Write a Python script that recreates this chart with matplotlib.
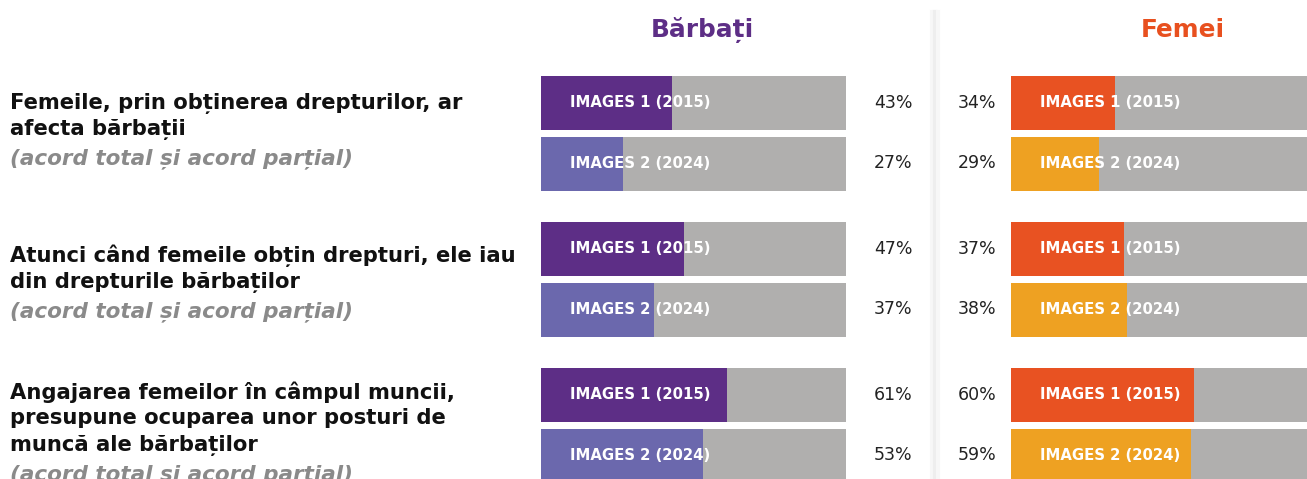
import matplotlib
matplotlib.use("Agg")
import matplotlib.pyplot as plt
from matplotlib.lines import Line2D

# ---- data ----
questions = [
    ["Femeile, prin obținerea drepturilor, ar", "afecta bărbații"],
    ["Atunci când femeile obțin drepturi, ele iau", "din drepturile bărbaților"],
    ["Angajarea femeilor în câmpul muncii,", "presupune ocuparea unor posturi de", "muncă ale bărbaților"],
]
note = "(acord total și acord parțial)"
waves = ["IMAGES 1 (2015)", "IMAGES 2 (2024)"]
men_2015 = [43, 47, 61]
men_2024 = [27, 37, 53]
women_2015 = [34, 37, 60]
women_2024 = [29, 38, 59]
panel_titles = ["Bărbați", "Femei"]

# ---- styles ----
W, H = 1307, 479
C_GRAY = "#b0afae"
C_M1, C_M2 = "#5d2e86", "#6b68ad"
C_W1, C_W2 = "#e85222", "#eea122"
C_TITLE_M, C_TITLE_W = "#5d2e86", "#e8501f"
FONT = "DejaVu Sans"

fig = plt.figure(figsize=(W / 100, H / 100), dpi=100)
fig.patch.set_facecolor("white")

# full-figure axes for text (pixel coords)
axT = fig.add_axes([0, 0, 1, 1])
axT.set_xlim(0, W)
axT.set_ylim(H, 0)
axT.axis("off")

group_c = [133, 279, 425]
off = 30.5
bar_h = 54

def make_bar_ax(x0):
    ax = fig.add_axes([x0 / W, 0, 305 / W, 1])
    ax.set_xlim(0, 100)
    ax.set_ylim(H, 0)
    ax.axis("off")
    return ax

axL = make_bar_ax(541)
axR = make_bar_ax(1011)

for ax, v1, v2, c1, c2, px in [
    (axL, men_2015, men_2024, C_M1, C_M2, 893),
    (axR, women_2015, women_2024, C_W1, C_W2, 977),
]:
    for g, (a, b) in enumerate(zip(v1, v2)):
        for y, v, c, lab in [(group_c[g] - off, a, c1, waves[0]),
                             (group_c[g] + off, b, c2, waves[1])]:
            ax.barh(y, 100, height=bar_h, color=C_GRAY, left=0)
            ax.barh(y, v, height=bar_h, color=c, left=0)
            ax.text(9.5, y, lab, color="white", fontsize=10.7,
                    fontweight="bold", va="center", ha="left", family=FONT)
            axT.text(px, y, f"{v}%", color="#222222", fontsize=12.5,
                     va="center", ha="center", family=FONT)

# titles
axT.text(702, 30, panel_titles[0], color=C_TITLE_M, fontsize=17.8,
         fontweight="bold", ha="center", va="center", family=FONT)
axT.text(1183, 30, panel_titles[1], color=C_TITLE_W, fontsize=17.8,
         fontweight="bold", ha="center", va="center", family=FONT)

# separator shadow
for dx, col, lw in [(-3, "#f7f7f7", 3), (0, "#eeeeee", 3), (3, "#f7f7f7", 3)]:
    axT.add_line(Line2D([935 + dx, 935 + dx], [12, H], color=col, lw=lw))

# question texts
starts = [103, 256, 392]
for q, y0 in zip(questions, starts):
    y = y0
    for line in q:
        axT.text(10, y, line, color="#111111", fontsize=15.2, fontweight="bold",
                 ha="left", va="center", family=FONT)
        y += 26.5
    axT.text(10, y + 3, note, color="#8a8a8a", fontsize=15.5, fontweight="bold",
             style="italic", ha="left", va="center", family=FONT)

fig.savefig("out.png", dpi=100, facecolor="white")
